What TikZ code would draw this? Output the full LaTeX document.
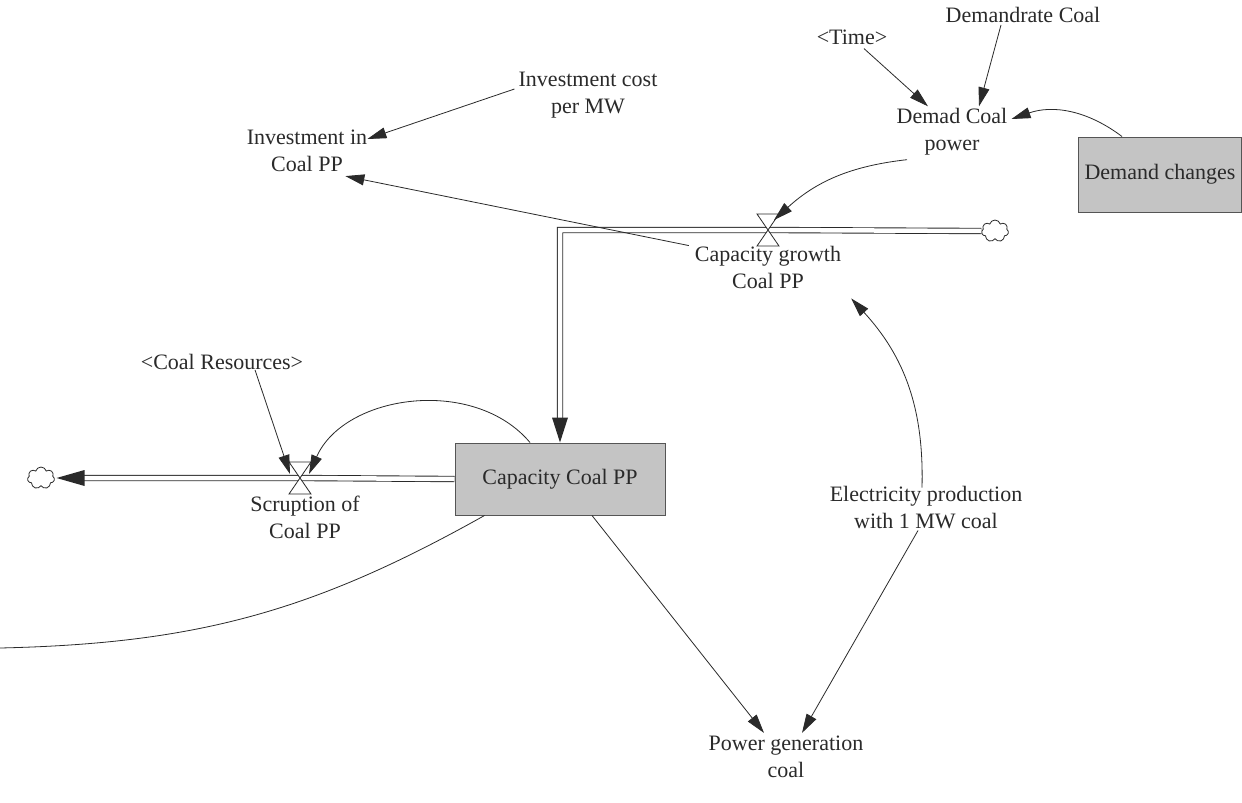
\documentclass[tikz,border=0pt]{standalone}
\usepackage{fontspec}
\setmainfont{Liberation Serif}
\usetikzlibrary{arrows.meta,shapes.symbols,calc}
\definecolor{ink}{HTML}{2A2A2A}
\definecolor{stockfill}{HTML}{C4C4C4}
\tikzset{
  var/.style={align=center,inner sep=2pt,font=\fontsize{22}{27}\selectfont,text=ink},
  stockbox/.style={draw=ink!80,line width=1pt,fill=stockfill,inner sep=0pt,font=\fontsize{22}{27}\selectfont,text=ink},
  arr/.style={draw=ink,line width=0.8pt,-{Triangle[length=19pt,width=11pt]}},
  link/.style={draw=ink,line width=0.8pt},
  pipe/.style={draw=ink,line width=0.9pt,double=white,double distance=4.5pt},
  valveshape/.style={draw=ink,line width=0.8pt,fill=white},
  cloudnode/.style={cloud,cloud puffs=7,draw=ink,line width=0.8pt,fill=white,minimum width=27pt,minimum height=22pt,inner sep=0pt,aspect=1.2},
}
\begin{document}
\begin{tikzpicture}[x=1pt,y=-1pt]
\useasboundingbox[fill=white] (0,0) rectangle (1242,803);

% nodes
\node[var] (icpm) at (588,95) {Investment cost\\per MW};
\node[var] (iicpp) at (307,151) {Investment in\\Coal PP};
\node[var] (time) at (852,37) {<Time>};
\node[var] (drc) at (1023,15) {Demandrate Coal};
\node[var] (dcp) at (952,132) {Demad Coal\\power};
\node[stockbox,minimum width=163pt,minimum height=75pt] (dch) at (1160,174.5) {Demand changes};
\node[stockbox,minimum width=210pt,minimum height=72pt] (cap) at (560,479) {Capacity Coal PP};
\node[var] (cgl) at (768,267) {Capacity growth\\Coal PP};
\node[var] (scl) at (305,517) {Scruption of\\Coal PP};
\node[var] (cr) at (222,362) {<Coal Resources>};
\node[var] (ep) at (926,508) {Electricity production\\with 1 MW coal};
\node[var] (pg) at (786,757) {Power generation\\coal};

\coordinate (v1) at (768,230);
\coordinate (v2) at (300,478);
\coordinate (corner) at (560,230);
\coordinate (offl) at (0,648);
\node[cloudnode] (c1) at (995,231) {};
\node[cloudnode] (c2) at (41,478) {};

% pipes
\draw[pipe] (c1.west) -- (v1) -- (corner) -- ($(cap.north)+(0,-22)$);
\fill[ink] (cap.north) -- ++(-8,-25) -- ++(16,0) -- cycle;
\draw[pipe] (cap.west) -- (v2) -- ($(c2.east)+(24,0)$);
\fill[ink] ($(c2.east)+(2,0)$) -- ++(28,-8) -- ++(0,16) -- cycle;

% valves
\draw[valveshape] ($(v1)+(-11,-16)$) -- ($(v1)+(11,-16)$) -- ($(v1)+(-11,16)$) -- ($(v1)+(11,16)$) -- cycle;
\draw[valveshape] ($(v2)+(-11,-16)$) -- ($(v2)+(11,-16)$) -- ($(v2)+(-11,16)$) -- ($(v2)+(11,16)$) -- cycle;

% connectors
\draw[arr] ([xshift=-2pt,yshift=6pt]icpm.west) -- ([xshift=-2pt,yshift=12pt]iicpp.east);
\draw[arr] ([xshift=-4pt,yshift=-2pt]cgl.north west) -- ([xshift=-24pt,yshift=-2pt]iicpp.south east);
\draw[arr] ([xshift=12pt,yshift=-2pt]time.south) -- ([xshift=-24pt]dcp.north);
\draw[arr] ([xshift=-22pt]drc.south) -- ([xshift=27pt]dcp.north);
\draw[arr] ([xshift=-38pt]dch.north) to[bend right=28] ([yshift=13pt,xshift=2pt]dcp.east);
\draw[arr] ([xshift=-45pt,yshift=-2pt]dcp.south) to[bend right=18] ($(v1)+(6,-10)$);
\draw[arr] ([xshift=-30pt]cap.north) to[bend right=58] ($(v2)+(9,-4)$);
\draw[arr] ([xshift=33pt,yshift=2pt]cr.south) -- ($(v2)+(-10,-4)$);
\draw[link] ([xshift=30pt]cap.south west) to[bend left=14] (offl);
\draw[arr] ([xshift=32pt]cap.south) -- ([xshift=-22pt,yshift=1pt]pg.north);
\draw[arr] ([xshift=-8pt,yshift=1pt]ep.south) -- ([xshift=16pt,yshift=1pt]pg.north);
\draw[arr] ([xshift=-4pt,yshift=-3pt]ep.north) to[bend right=22] ([xshift=8pt,yshift=-8pt]cgl.south east);
\end{tikzpicture}
\end{document}
